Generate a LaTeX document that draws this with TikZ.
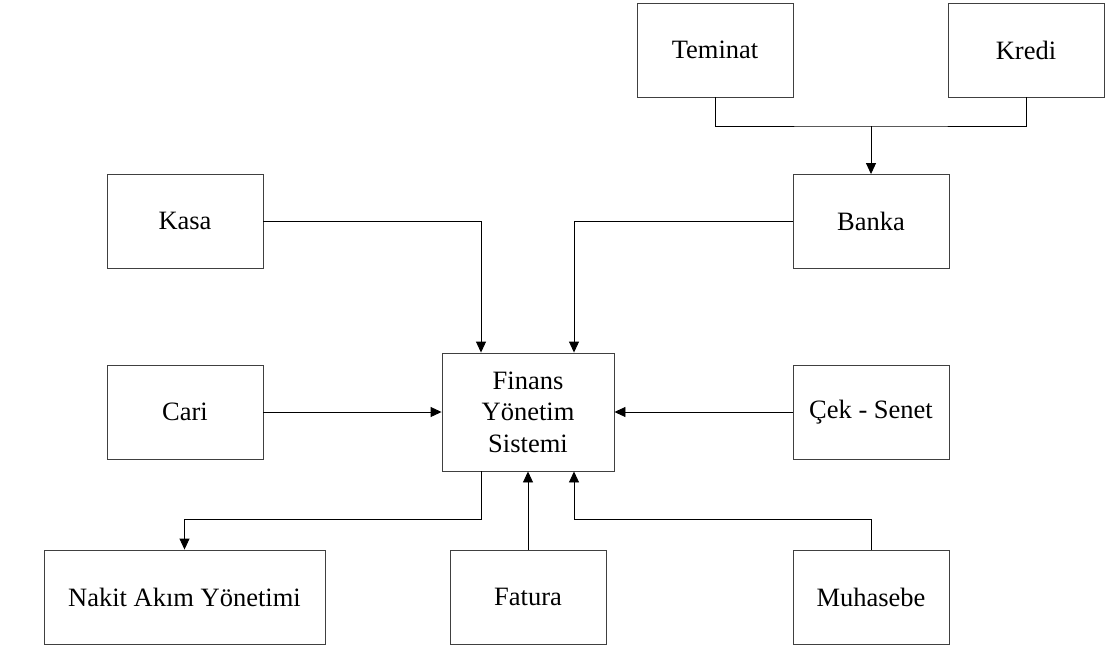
\documentclass[tikz,border=0pt]{standalone}
\usepackage{fontspec}
\setmainfont{Liberation Serif}
\usetikzlibrary{arrows.meta}
\begin{document}
\begin{tikzpicture}[x=1pt,y=-1pt,
  box/.style={draw=black!75,line width=0.9pt,fill=white,inner sep=0pt,
    minimum width=156pt,minimum height=94pt,align=center,
    font=\fontsize{26.5}{31.5}\selectfont},
  link/.style={draw=black,line width=0.9pt},
  arr/.style={link,-{Triangle[length=11pt,width=10pt]}}]
\useasboundingbox (0,0) rectangle (1105,653);
% boxes
\node[box] (teminat) at (715,50) {Teminat};
\node[box] (kredi) at (1026,50) {Kredi};
\node[box] (banka) at (871,221.5) {Banka};
\node[box] (kasa) at (185,221) {Kasa};
\node[box,minimum width=172pt,minimum height=118pt] (finans) at (528,412) {Finans\\Yönetim\\Sistemi};
\node[box] (cari) at (185,412) {Cari};
\node[box] (cek) at (871,412) {Çek - Senet};
\node[box,minimum width=281pt] (nakit) at (184.5,597) {Nakit Akım Yönetimi};
\node[box] (fatura) at (528,597) {Fatura};
\node[box] (muhasebe) at (871,597) {Muhasebe};
% Teminat and Kredi feed Banka
\coordinate (join) at (871,126);
\draw[link] (teminat.south) |- (join) -| (kredi.south);
\draw[arr] (join) -- (banka.north);
% inputs into the central system
\draw[arr] (kasa.east) -| ([xshift=-47pt]finans.north);
\draw[arr] (banka.west) -| ([xshift=46pt]finans.north);
\draw[arr] (cari.east) -- (finans.west);
\draw[arr] (cek.west) -- (finans.east);
\draw[arr] (fatura.north) -- (finans.south);
\draw[arr] (muhasebe.north) -- ++(0,-30) -| ([xshift=46pt]finans.south);
% output to cash flow management
\draw[arr] ([xshift=-47pt]finans.south) -- ++(0,48) -| (nakit.north);
\end{tikzpicture}
\end{document}
